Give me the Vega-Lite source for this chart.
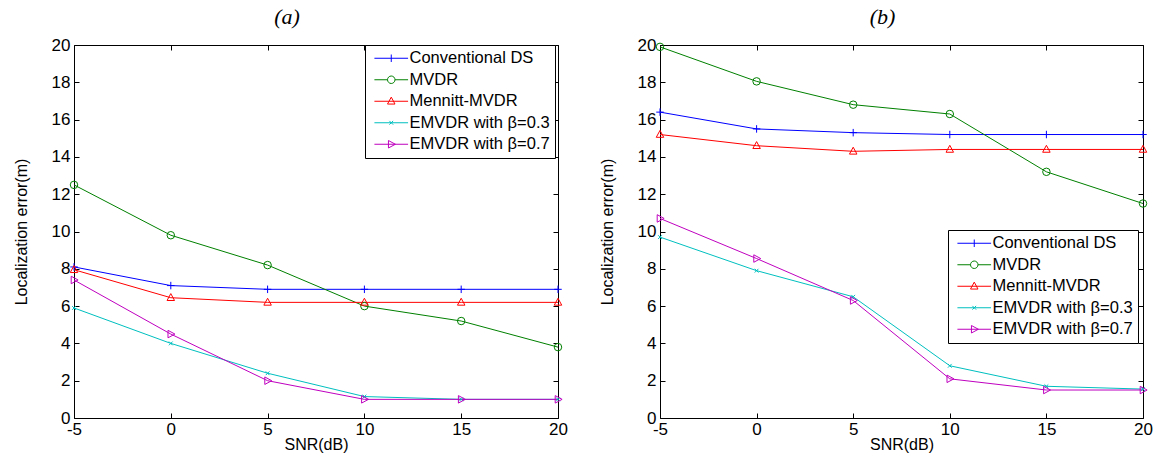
{
  "$schema": "https://vega.github.io/schema/vega-lite/v6.json",
  "padding": {"left": 13, "top": 6, "right": 5, "bottom": 5},
  "background": "white",
  "datasets": {
    "a": [
      {"snr": -5, "series": "Conventional DS", "err": 8.1},
      {"snr": 0, "series": "Conventional DS", "err": 7.1},
      {"snr": 5, "series": "Conventional DS", "err": 6.9},
      {"snr": 10, "series": "Conventional DS", "err": 6.9},
      {"snr": 15, "series": "Conventional DS", "err": 6.9},
      {"snr": 20, "series": "Conventional DS", "err": 6.9},
      {"snr": -5, "series": "MVDR", "err": 12.5},
      {"snr": 0, "series": "MVDR", "err": 9.8},
      {"snr": 5, "series": "MVDR", "err": 8.2},
      {"snr": 10, "series": "MVDR", "err": 6.0},
      {"snr": 15, "series": "MVDR", "err": 5.2},
      {"snr": 20, "series": "MVDR", "err": 3.8},
      {"snr": -5, "series": "Mennitt-MVDR", "err": 7.95},
      {"snr": 0, "series": "Mennitt-MVDR", "err": 6.45},
      {"snr": 5, "series": "Mennitt-MVDR", "err": 6.2},
      {"snr": 10, "series": "Mennitt-MVDR", "err": 6.2},
      {"snr": 15, "series": "Mennitt-MVDR", "err": 6.2},
      {"snr": 20, "series": "Mennitt-MVDR", "err": 6.2},
      {"snr": -5, "series": "EMVDR with β=0.3", "err": 5.9},
      {"snr": 0, "series": "EMVDR with β=0.3", "err": 4.0},
      {"snr": 5, "series": "EMVDR with β=0.3", "err": 2.4},
      {"snr": 10, "series": "EMVDR with β=0.3", "err": 1.15},
      {"snr": 15, "series": "EMVDR with β=0.3", "err": 1.0},
      {"snr": 20, "series": "EMVDR with β=0.3", "err": 1.0},
      {"snr": -5, "series": "EMVDR with β=0.7", "err": 7.4},
      {"snr": 0, "series": "EMVDR with β=0.7", "err": 4.5},
      {"snr": 5, "series": "EMVDR with β=0.7", "err": 2.0},
      {"snr": 10, "series": "EMVDR with β=0.7", "err": 1.0},
      {"snr": 15, "series": "EMVDR with β=0.7", "err": 1.0},
      {"snr": 20, "series": "EMVDR with β=0.7", "err": 1.0}
    ],
    "b": [
      {"snr": -5, "series": "Conventional DS", "err": 16.4},
      {"snr": 0, "series": "Conventional DS", "err": 15.5},
      {"snr": 5, "series": "Conventional DS", "err": 15.3},
      {"snr": 10, "series": "Conventional DS", "err": 15.2},
      {"snr": 15, "series": "Conventional DS", "err": 15.2},
      {"snr": 20, "series": "Conventional DS", "err": 15.2},
      {"snr": -5, "series": "MVDR", "err": 19.9},
      {"snr": 0, "series": "MVDR", "err": 18.05},
      {"snr": 5, "series": "MVDR", "err": 16.8},
      {"snr": 10, "series": "MVDR", "err": 16.3},
      {"snr": 15, "series": "MVDR", "err": 13.2},
      {"snr": 20, "series": "MVDR", "err": 11.5},
      {"snr": -5, "series": "Mennitt-MVDR", "err": 15.2},
      {"snr": 0, "series": "Mennitt-MVDR", "err": 14.6},
      {"snr": 5, "series": "Mennitt-MVDR", "err": 14.3},
      {"snr": 10, "series": "Mennitt-MVDR", "err": 14.4},
      {"snr": 15, "series": "Mennitt-MVDR", "err": 14.4},
      {"snr": 20, "series": "Mennitt-MVDR", "err": 14.4},
      {"snr": -5, "series": "EMVDR with β=0.3", "err": 9.7},
      {"snr": 0, "series": "EMVDR with β=0.3", "err": 7.9},
      {"snr": 5, "series": "EMVDR with β=0.3", "err": 6.5},
      {"snr": 10, "series": "EMVDR with β=0.3", "err": 2.8},
      {"snr": 15, "series": "EMVDR with β=0.3", "err": 1.7},
      {"snr": 20, "series": "EMVDR with β=0.3", "err": 1.55},
      {"snr": -5, "series": "EMVDR with β=0.7", "err": 10.7},
      {"snr": 0, "series": "EMVDR with β=0.7", "err": 8.55},
      {"snr": 5, "series": "EMVDR with β=0.7", "err": 6.3},
      {"snr": 10, "series": "EMVDR with β=0.7", "err": 2.1},
      {"snr": 15, "series": "EMVDR with β=0.7", "err": 1.5},
      {"snr": 20, "series": "EMVDR with β=0.7", "err": 1.5}
    ]
  },
  "spacing": 102,
  "bounds": "flush",
  "hconcat": [
    {
      "width": 484,
      "height": 373,
      "title": {"text": "(a)", "dx": -29, "offset": 7},
      "data": {"name": "a"},
      "layer": [
        {
          "mark": {"type": "line", "strokeWidth": 1},
          "encoding": {
            "x": {"field": "snr", "type": "quantitative", "scale": {"domain": [-5, 20], "nice": false}, "axis": {"orient": "bottom", "title": "SNR(dB)", "values": [-5, 0, 5, 10, 15, 20], "labelFlush": false, "labelExpr": "datum.value < 0 ? '-' + abs(datum.value) : datum.label", "labelPadding": 8, "titlePadding": -1}},
            "y": {"field": "err", "type": "quantitative", "scale": {"domain": [0, 20], "nice": false}, "axis": {"orient": "left", "title": "Localization error(m)", "values": [0, 2, 4, 6, 8, 10, 12, 14, 16, 18, 20], "labelFlush": false, "labelPadding": 9, "titlePadding": 22}},
            "color": {"field": "series", "type": "nominal", "scale": {"domain": ["Conventional DS", "MVDR", "Mennitt-MVDR", "EMVDR with β=0.3", "EMVDR with β=0.7"], "range": ["#0000FF", "#008000", "#FF0000", "#00BFBF", "#BF00BF"]}, "legend": null}
          }
        },
        {
          "mark": {"type": "point", "filled": false, "size": 56, "strokeWidth": 1, "opacity": 1},
          "encoding": {
            "x": {"field": "snr", "type": "quantitative", "axis": null},
            "y": {"field": "err", "type": "quantitative", "axis": null},
            "color": {"field": "series", "type": "nominal", "scale": {"domain": ["Conventional DS", "MVDR", "Mennitt-MVDR", "EMVDR with β=0.3", "EMVDR with β=0.7"], "range": ["#0000FF", "#008000", "#FF0000", "#00BFBF", "#BF00BF"]}, "legend": null},
            "shape": {"field": "series", "type": "nominal", "scale": {"domain": ["Conventional DS", "MVDR", "Mennitt-MVDR", "EMVDR with β=0.3", "EMVDR with β=0.7"], "range": ["M-1,0H1M0,-1V1", "circle", "M0,-1.1L1,0.75H-1Z", "M-0.5,-0.5L0.5,0.5M-0.5,0.5L0.5,-0.5", "M-0.75,-1L1.1,0L-0.75,1Z"]}, "legend": null}
          }
        },
        {
          "mark": {"type": "point", "filled": false, "size": 56, "strokeWidth": 1, "opacity": 0},
          "encoding": {
            "x": {"field": "snr", "type": "quantitative", "axis": {"orient": "top", "labels": false, "title": null, "values": [-5, 0, 5, 10, 15, 20]}},
            "y": {"field": "err", "type": "quantitative", "axis": {"orient": "right", "labels": false, "title": null, "values": [0, 2, 4, 6, 8, 10, 12, 14, 16, 18, 20]}},
            "color": {"field": "series", "type": "nominal", "scale": {"domain": ["Conventional DS", "MVDR", "Mennitt-MVDR", "EMVDR with β=0.3", "EMVDR with β=0.7"], "range": ["#0000FF", "#008000", "#FF0000", "#00BFBF", "#BF00BF"]}, "legend": {"orient": "none", "legendX": 291, "legendY": 0, "title": null}},
            "shape": {"field": "series", "type": "nominal", "scale": {"domain": ["Conventional DS", "MVDR", "Mennitt-MVDR", "EMVDR with β=0.3", "EMVDR with β=0.7"], "range": ["M-4.5,0H4.5M0,-1V1", "M-4.5,0H-1M1,0H4.5M-1,0A1,1 0 1,1 1,0A1,1 0 1,1 -1,0", "M-4.5,0H4.5M0,-1.1L1,0.75H-1Z", "M-4.5,0H4.5M-0.5,-0.5L0.5,0.5M-0.5,0.5L0.5,-0.5", "M-4.5,0H4.5M-0.75,-1L1.1,0L-0.75,1Z"]}, "legend": {"orient": "none", "legendX": 291, "legendY": 0, "title": null}}
          }
        }
      ],
      "resolve": {"scale": {"color": "independent", "shape": "independent"}, "axis": {"x": "independent", "y": "independent"}}
    },
    {
      "width": 483,
      "height": 373,
      "title": {"text": "(b)", "dx": -19, "offset": 7},
      "data": {"name": "b"},
      "layer": [
        {
          "mark": {"type": "line", "strokeWidth": 1},
          "encoding": {
            "x": {"field": "snr", "type": "quantitative", "scale": {"domain": [-5, 20], "nice": false}, "axis": {"orient": "bottom", "title": "SNR(dB)", "values": [-5, 0, 5, 10, 15, 20], "labelFlush": false, "labelExpr": "datum.value < 0 ? '-' + abs(datum.value) : datum.label", "labelPadding": 8, "titlePadding": -1}},
            "y": {"field": "err", "type": "quantitative", "scale": {"domain": [0, 20], "nice": false}, "axis": {"orient": "left", "title": "Localization error(m)", "values": [0, 2, 4, 6, 8, 10, 12, 14, 16, 18, 20], "labelFlush": false, "labelPadding": 9, "titlePadding": 22}},
            "color": {"field": "series", "type": "nominal", "scale": {"domain": ["Conventional DS", "MVDR", "Mennitt-MVDR", "EMVDR with β=0.3", "EMVDR with β=0.7"], "range": ["#0000FF", "#008000", "#FF0000", "#00BFBF", "#BF00BF"]}, "legend": null}
          }
        },
        {
          "mark": {"type": "point", "filled": false, "size": 56, "strokeWidth": 1, "opacity": 1},
          "encoding": {
            "x": {"field": "snr", "type": "quantitative", "axis": null},
            "y": {"field": "err", "type": "quantitative", "axis": null},
            "color": {"field": "series", "type": "nominal", "scale": {"domain": ["Conventional DS", "MVDR", "Mennitt-MVDR", "EMVDR with β=0.3", "EMVDR with β=0.7"], "range": ["#0000FF", "#008000", "#FF0000", "#00BFBF", "#BF00BF"]}, "legend": null},
            "shape": {"field": "series", "type": "nominal", "scale": {"domain": ["Conventional DS", "MVDR", "Mennitt-MVDR", "EMVDR with β=0.3", "EMVDR with β=0.7"], "range": ["M-1,0H1M0,-1V1", "circle", "M0,-1.1L1,0.75H-1Z", "M-0.5,-0.5L0.5,0.5M-0.5,0.5L0.5,-0.5", "M-0.75,-1L1.1,0L-0.75,1Z"]}, "legend": null}
          }
        },
        {
          "mark": {"type": "point", "filled": false, "size": 56, "strokeWidth": 1, "opacity": 0},
          "encoding": {
            "x": {"field": "snr", "type": "quantitative", "axis": {"orient": "top", "labels": false, "title": null, "values": [-5, 0, 5, 10, 15, 20]}},
            "y": {"field": "err", "type": "quantitative", "axis": {"orient": "right", "labels": false, "title": null, "values": [0, 2, 4, 6, 8, 10, 12, 14, 16, 18, 20]}},
            "color": {"field": "series", "type": "nominal", "scale": {"domain": ["Conventional DS", "MVDR", "Mennitt-MVDR", "EMVDR with β=0.3", "EMVDR with β=0.7"], "range": ["#0000FF", "#008000", "#FF0000", "#00BFBF", "#BF00BF"]}, "legend": {"orient": "none", "legendX": 288, "legendY": 185, "title": null}},
            "shape": {"field": "series", "type": "nominal", "scale": {"domain": ["Conventional DS", "MVDR", "Mennitt-MVDR", "EMVDR with β=0.3", "EMVDR with β=0.7"], "range": ["M-4.5,0H4.5M0,-1V1", "M-4.5,0H-1M1,0H4.5M-1,0A1,1 0 1,1 1,0A1,1 0 1,1 -1,0", "M-4.5,0H4.5M0,-1.1L1,0.75H-1Z", "M-4.5,0H4.5M-0.5,-0.5L0.5,0.5M-0.5,0.5L0.5,-0.5", "M-4.5,0H4.5M-0.75,-1L1.1,0L-0.75,1Z"]}, "legend": {"orient": "none", "legendX": 288, "legendY": 185, "title": null}}
          }
        }
      ],
      "resolve": {"scale": {"color": "independent", "shape": "independent"}, "axis": {"x": "independent", "y": "independent"}}
    }
  ],
  "config": {
    "view": {"stroke": null},
    "title": {"font": "Liberation Serif", "fontStyle": "italic", "fontWeight": "normal", "fontSize": 22, "color": "black", "anchor": "middle"},
    "axis": {
      "grid": false,
      "domainColor": "black",
      "domainWidth": 1,
      "tickColor": "black",
      "tickSize": -5,
      "tickWidth": 1,
      "labelFont": "Liberation Sans",
      "labelFontSize": 17,
      "labelColor": "black",
      "titleFont": "Liberation Sans",
      "titleFontSize": 16,
      "titleFontWeight": "normal",
      "titleColor": "black"
    },
    "legend": {
      "labelFont": "Liberation Sans",
      "labelFontSize": 16.5,
      "labelColor": "black",
      "labelLimit": 300,
      "symbolSize": 56,
      "symbolStrokeWidth": 1,
      "symbolOpacity": 1,
      "strokeColor": "black",
      "fillColor": "white",
      "padding": 5,
      "rowPadding": 4.5,
      "labelOffset": 10,
      "symbolOffset": 13,
      "cornerRadius": 0
    }
  }
}
